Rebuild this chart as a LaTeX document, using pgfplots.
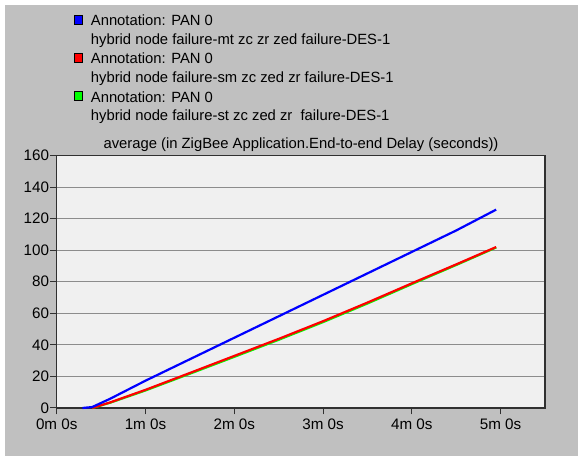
\documentclass[border=0pt]{standalone}
\usepackage{fontspec}
\setmainfont{Liberation Sans}
\usepackage{pgfplots}
\pgfplotsset{compat=1.18}
\definecolor{bgg}{HTML}{C0C0C0}
\definecolor{plotbg}{HTML}{F0F0F0}
\definecolor{gridc}{HTML}{8C8C8C}
\definecolor{framec}{HTML}{303030}
\definecolor{lblue}{HTML}{0000FF}
\definecolor{lred}{HTML}{FF0000}
\definecolor{lgreen}{HTML}{00FF00}
\begin{document}
\fontsize{14.8bp}{17bp}\selectfont
\begin{tikzpicture}[x=1bp,y=1bp]
\useasboundingbox (0,0) rectangle (578,456);
\fill[white] (0,0) rectangle (578,456);
\fill[bgg] (5,0) rectangle (578,451);
% legend
\foreach \k/\c/\t in {0/lblue/{hybrid node failure-mt zc zr zed failure-DES-1},1/lred/{hybrid node failure-sm zc zed zr failure-DES-1},2/lgreen/{hybrid node failure-st zc zed zr\ \ failure-DES-1}}{
  \pgfmathsetmacro{\ytop}{456-15.5-38.2*\k}
  \filldraw[fill=\c, draw=black, line width=0.8bp] (74,\ytop) rectangle (82.5,\ytop-8.5);
  \node[anchor=base west, inner sep=0pt, font=\fontsize{14.8bp}{17bp}\selectfont] at (90.7,\ytop-10.2) {Annotation: PAN 0};
  \node[anchor=base west, inner sep=0pt, font=\fontsize{14.8bp}{17bp}\selectfont] at (90.7,\ytop-29) {\t};
}
\node[anchor=base, inner sep=0pt, font=\fontsize{14.8bp}{17bp}\selectfont] at (301,307) {average (in ZigBee Application.End-to-end Delay (seconds))};
\begin{axis}[
  at={(56.7bp,48bp)}, anchor=south west, scale only axis,
  width=488.3bp, height=252.5bp,
  xmin=0, xmax=5.5, ymin=0, ymax=160,
  axis background/.style={fill=plotbg},
  axis line style={framec, line width=1.5bp},
  tick align=outside, tick pos=left,
  major tick length=6.5bp,
  tick style={framec, line width=1bp},
  ytick={0,20,...,160},
  xtick={0,1,2,3,4,5},
  xticklabels={0m 0s,1m 0s,2m 0s,3m 0s,4m 0s,5m 0s},
  ymajorgrids, grid style={gridc, line width=1bp},
  /pgf/number format/assume math mode=true,
  ticklabel style={font=\fontsize{15.2bp}{17bp}\selectfont, text=black},
  yticklabel style={inner sep=1pt},
  xticklabel style={inner sep=0pt, yshift=-4bp},
  clip=false,
]
\addplot[lgreen, line width=2.2bp] coordinates {(0.4,0) (0.6,3.3) (1.0,11.1) (1.5,21.7) (2.0,32.4) (2.5,43.2) (3.0,54.4) (3.5,66.2) (4.0,78.5) (4.5,90.6) (4.95,101.7)};
\addplot[lred, line width=2.2bp] coordinates {(0.4,0) (0.6,3.5) (1.0,11.5) (1.5,22.2) (2.0,33) (2.5,43.8) (3.0,55) (3.5,66.8) (4.0,79) (4.5,91) (4.95,102)};
\addplot[lblue, line width=2.2bp] coordinates {(0.29,0) (0.4,0.6) (0.6,5.8) (1.0,17.3) (1.5,30.9) (2.0,44.5) (2.5,58.1) (3.0,71.7) (3.5,85.3) (4.0,98.9) (4.5,112.5) (4.95,125.7)};
\end{axis}
\end{tikzpicture}
\end{document}
